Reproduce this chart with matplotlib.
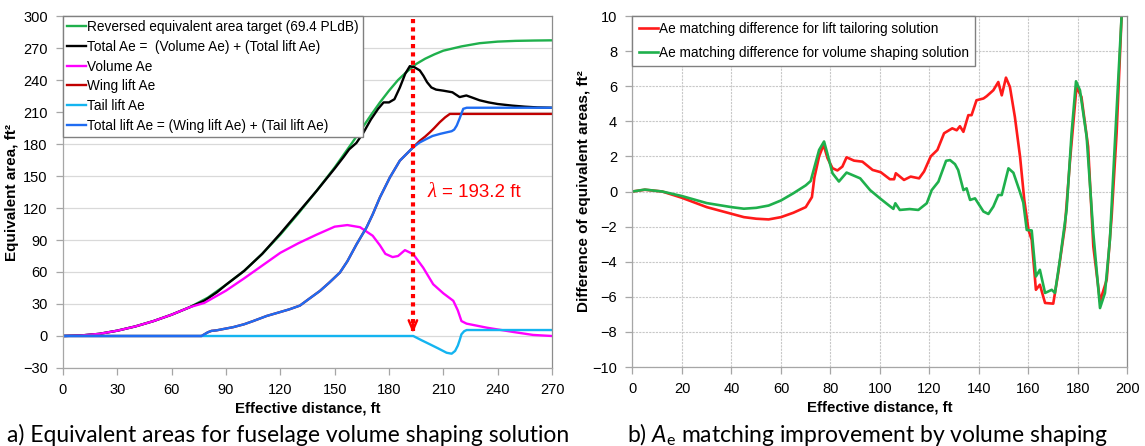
import matplotlib
matplotlib.use("Agg")
import matplotlib.pyplot as plt

# fonts: Arial-like for the charts, Calibri-like for the captions
plt.rcParams['font.family'] = ['Liberation Sans', 'DejaVu Sans']
plt.rcParams['mathtext.fontset'] = 'custom'
plt.rcParams['mathtext.rm'] = 'Lato'
plt.rcParams['mathtext.it'] = 'Lato:italic'

# ---- left chart data (ft, ft^2) ----
dist_target = [0, 10, 20, 30, 40, 50, 60, 70, 80, 90, 100, 110, 120, 130, 140, 150, 160, 170,
               175, 180, 185, 190, 195, 200, 205, 210, 220, 230, 240, 250, 260, 270]
ae_target = [0, 0.5, 2, 5, 9, 14, 20, 27, 36, 48, 61, 77, 95, 115, 136, 158, 182, 207,
             219, 230, 240, 248, 255, 260, 264, 267.5, 271.5, 274.5, 276, 276.7, 277, 277.2]

dist_total = [0, 10, 20, 30, 40, 50, 60, 70, 78, 85, 90, 100, 110, 120, 130, 140, 150, 155, 158,
              162, 166, 170, 174, 177, 180, 183, 186, 189, 191.5, 194, 197, 199, 201, 203.4, 206,
              210, 215, 219, 222.7, 226, 230, 235, 240, 248, 255, 262, 270]
ae_total = [0, 0.5, 2, 5, 9, 14, 20, 27, 33, 41, 48, 61, 77, 96, 116, 136, 157, 168, 175,
            181, 191, 203, 213, 219, 219, 222, 233, 246, 253, 252, 249, 244, 238, 233, 231,
            230, 228.5, 224, 225.5, 223.5, 221, 219, 217.5, 216, 215, 214.3, 214]

dist_vol = [0, 10, 20, 30, 40, 50, 60, 70, 78, 90, 100, 110, 120, 130, 140, 150, 157, 164, 171,
            175, 178, 182, 185, 188.8, 193.4, 198.9, 204.4, 210, 215.5, 218, 220, 222.8, 234,
            248.5, 259.5, 270]
ae_vol = [0, 0.5, 2, 5, 9, 14, 20, 27, 31, 42.5, 54, 66, 78, 87, 95, 102.5, 104, 102, 94,
          85, 77, 74, 75, 80.5, 76.7, 64, 48.5, 40, 33, 24, 14, 11.6, 7.8, 3.8, 1, 0]

dist_wing = [0, 76.5, 78, 80, 82, 84.8, 90, 94, 100, 105, 112.5, 120, 125, 130.8, 136, 141.9,
             147, 152.9, 157, 162.1, 167.6, 171, 175, 180.5, 186, 193.4, 197, 200, 202.6, 205,
             208, 211, 213.6, 270]
ae_wing = [0, 0, 1.5, 3.5, 4.8, 5.3, 7, 8.3, 11, 14, 18.8, 22.5, 25, 28.5, 35, 42.3,
           50, 59.5, 70, 86, 101.8, 114, 130, 148.7, 164.4, 177, 183, 187, 191, 195,
           200.4, 205, 208.2, 208.2]

dist_tail = [0, 193.4, 198, 202.6, 207, 211.8, 214.6, 216.5, 218, 219, 220, 221.5, 222.9, 270]
ae_tail = [0, 0, -4, -7.8, -11.5, -15.7, -16.6, -14, -9, -4, 1.6, 4.5, 5.6, 5.6]

dist_lift = [0, 76.5, 78, 80, 82, 84.8, 90, 94, 100, 105, 112.5, 120, 125, 130.8, 136, 141.9,
             147, 152.9, 157, 162.1, 167.6, 171, 175, 180.5, 186, 193.4, 197, 200.8, 204,
             208.2, 212, 214.6, 216, 217.4, 219, 221, 222.9, 270]
ae_lift = [0, 0, 1.5, 3.5, 4.8, 5.3, 7, 8.3, 11, 14, 18.8, 22.5, 25, 28.5, 35, 42.3,
           50, 59.5, 70, 86, 101.8, 114, 130, 148.7, 164.4, 177, 181.5, 184.8, 187.5,
           189.5, 191, 192, 193.5, 197.3, 204, 213, 214, 214]

lam = 193.2

# ---- right chart data ----
dist_vs = [0, 5, 12, 20, 30, 40, 45, 50, 55, 60, 65, 70, 72, 73.4, 75.4, 77.4, 78.7, 80.8, 83.4,
           86.5, 89.5, 92, 96, 100, 103.4, 105.4, 106.2, 108, 112, 115.5, 118.9, 120.9, 123.6,
           126.7, 128.3, 130.3, 131.6, 133.7, 135, 136.4, 138.4, 141.8, 143.8, 145.8, 147.8,
           149.2, 151.9, 153.9, 156.3, 157.9, 159.3, 161.3, 163, 164.6, 166.7, 169.4, 170.7,
           172.7, 175.4, 177.4, 179.2, 180.8, 183.5, 186.2, 188.9, 190.9, 192.9, 194.9, 197.6, 198.5]
diff_vs = [0, 0.11, 0, -0.26, -0.66, -0.89, -0.98, -0.93, -0.8, -0.51, -0.1, 0.35, 0.6, 1.33,
           2.37, 2.85, 2.18, 1.04, 0.57, 1.08, 0.9, 0.75, 0.08, -0.39, -0.77, -0.99, -0.67, -1.05,
           -1.0, -1.05, -0.67, 0.08, 0.56, 1.75, 1.79, 1.56, 1.22, 0.08, 0.18, -0.48, -0.39, -1.14,
           -1.28, -0.86, -0.2, -0.2, 1.32, 1.07, 0.08, -0.63, -2.19, -2.22, -4.84, -4.46, -5.78,
           -5.6, -5.78, -3.89, -1.05, 3.3, 6.28, 5.77, 3.12, -2.38, -6.64, -5.78, -2.75, 2.74,
           9.93, 11.5]

dist_lt = [0, 5, 12, 20, 30, 40, 45, 50, 55, 60, 65, 70, 72.5, 73.5, 75.4, 77.2, 78.8, 80.8, 82.8,
           84.8, 86.5, 89.5, 92.9, 97, 100.3, 104, 105.7, 106.4, 109.7, 112.4, 115.8, 117.8, 120.5,
           123.2, 125.9, 129.2, 131, 132.3, 133.7, 135.7, 137, 139, 141.8, 143.1, 145.8, 147.8,
           149.2, 150.9, 152.5, 154.5, 156.6, 158.3, 160, 161.3, 163, 164.6, 166.7, 170, 172,
           174.7, 176.8, 179.4, 181.4, 184.1, 186.2, 188.9, 191.6, 193.6, 195.6, 197.6, 198.5]
diff_lt = [0, 0.1, 0, -0.36, -0.89, -1.27, -1.46, -1.55, -1.59, -1.46, -1.21, -0.89, -0.32, 0.8,
           2.0, 2.66, 1.9, 1.33, 1.2, 1.42, 1.95, 1.76, 1.7, 1.23, 1.1, 0.7, 0.7, 1.04, 0.66,
           0.85, 0.75, 1.14, 2.0, 2.37, 3.32, 3.6, 3.49, 3.72, 3.4, 4.35, 4.35, 5.2, 5.3, 5.43,
           5.77, 6.24, 5.48, 6.49, 5.96, 4.25, 1.98, -0.48, -2.19, -2.75, -5.6, -5.31, -6.35,
           -6.39, -4.65, -2.0, 1.79, 5.96, 5.39, 2.55, -3.13, -6.26, -5.03, -1.43, 3.3, 9.9, 11.5]

fig = plt.figure(figsize=(11.45, 4.46), dpi=100)
ax1 = fig.add_axes([0.0550, 0.1749, 0.4271, 0.7892])
ax2 = fig.add_axes([0.5524, 0.1771, 0.4323, 0.7870])

spine_col = '#a6a6a6'
for ax in (ax1, ax2):
    for s in ax.spines.values():
        s.set_color('#8c8c8c')
        s.set_linewidth(0.9)
    ax.spines['left'].set_color(spine_col)
    ax.spines['bottom'].set_color(spine_col)
    ax.tick_params(direction='out', length=5, width=0.9, color=spine_col,
                   labelsize=10.5, pad=6)
    ax.tick_params(top=False, right=False)
    ax.set_axisbelow(True)

lw = 1.7
ax1.plot(dist_target, ae_target, color='#1fb04c', lw=lw, label='Reversed equivalent area target (69.4 PLdB)')
ax1.plot(dist_total, ae_total, color='black', lw=lw, label='Total Ae =  (Volume Ae) + (Total lift Ae)')
ax1.plot(dist_vol, ae_vol, color='#ff00ff', lw=lw, label='Volume Ae')
ax1.plot(dist_wing, ae_wing, color='#c00000', lw=lw, label='Wing lift Ae')
ax1.plot(dist_tail, ae_tail, color='#14b4f0', lw=lw, label='Tail lift Ae')
ax1.plot(dist_lift, ae_lift, color='#1f6cf2', lw=lw, label='Total lift Ae = (Wing lift Ae) + (Tail lift Ae)')

ax1.plot([lam, lam], [297, 5], color='red', lw=3, linestyle=(0, (1, 1)), zorder=5)
ax1.annotate('', xy=(lam, 0), xytext=(lam, 14),
             arrowprops=dict(arrowstyle='->,head_length=0.7,head_width=0.3', color='red', lw=1.8),
             zorder=5)
ax1.text(201, 134.6, 'λ', color='red', fontsize=15, va='center',
         family='Liberation Serif', style='italic')
ax1.annotate('= 193.2 ft', xy=(201, 134.6), xytext=(11, 0), textcoords='offset points',
             color='red', fontsize=13.5, va='center')

ax1.set_xlim(0, 270)
ax1.set_ylim(-30, 300)
ax1.set_xticks(range(0, 271, 30))
ax1.set_yticks(range(-30, 301, 30))
ax1.yaxis.grid(True, color='#d9d9d9', lw=0.9)
ax1.set_xlabel('Effective distance, ft', fontsize=10.8, fontweight='bold', labelpad=3)
ax1.set_ylabel('Equivalent area, ft²', fontsize=11, fontweight='bold', labelpad=3)
leg1 = ax1.legend(loc='upper left', fontsize=9.8, frameon=True, fancybox=False,
                  edgecolor='#808080', framealpha=1, borderaxespad=0, borderpad=0.3,
                  handlelength=1.4, handletextpad=0.1, labelspacing=0.42)
leg1.get_frame().set_linewidth(1.0)

ax2.plot(dist_lt, diff_lt, color='#ff1a1a', lw=lw + 0.2, label='Ae matching difference for lift tailoring solution')
ax2.plot(dist_vs, diff_vs, color='#1fb04c', lw=lw + 0.2, label='Ae matching difference for volume shaping solution')
ax2.set_xlim(0, 200)
ax2.set_ylim(-10, 10)
ax2.set_xticks(range(0, 201, 20))
ax2.set_yticks(range(-10, 11, 2))
ax2.grid(True, color='#c8c8c8', lw=0.8, linestyle=(0, (2, 1)))
ax2.set_xlabel('Effective distance, ft', fontsize=10.8, fontweight='bold', labelpad=3)
ax2.set_ylabel('Difference of equivalent areas, ft²', fontsize=11, fontweight='bold', labelpad=1)
leg2 = ax2.legend(loc='upper left', fontsize=9.8, frameon=True, fancybox=False,
                  edgecolor='#808080', framealpha=1, borderaxespad=0, borderpad=0.45,
                  handlelength=1.4, handletextpad=0.1, labelspacing=0.7)
leg2.get_frame().set_linewidth(1.0)

fig.text(0.006, 0.01, 'a) Equivalent areas for fuselage volume shaping solution',
         family='Lato', fontsize=16.5, va='baseline')
fig.text(0.548, 0.01, r'b) $A_\mathrm{e}$ matching improvement by volume shaping',
         family='Lato', fontsize=16.5, va='baseline')

fig.savefig('out.png', dpi=100)
